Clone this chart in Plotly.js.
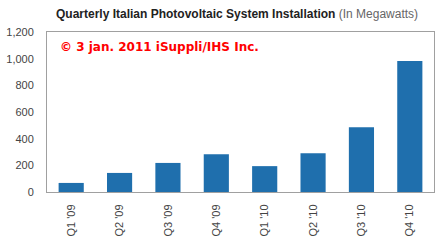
<!DOCTYPE html>
<html><head><meta charset="utf-8">
<script src="https://cdn.plot.ly/plotly-3.0.1.min.js"></script>
<style>html,body{margin:0;padding:0;background:#fff;}</style>
</head><body>
<div id="chart" style="width:438px;height:248px;"></div>
<script>
var quarters = ["Q1 '09","Q2 '09","Q3 '09","Q4 '09","Q1 '10","Q2 '10","Q3 '10","Q4 '10"];
var megawatts = [68, 143, 218, 284, 194, 290, 485, 982];
var yTicks = [0, 200, 400, 600, 800, 1000, 1200];

Plotly.newPlot('chart', [{
  type: 'bar',
  x: quarters,
  y: megawatts,
  marker: {color: '#1f6fad'},
  hoverinfo: 'none'
}], {
  width: 438, height: 248,
  margin: {l: 47, r: 4, t: 32, b: 56, pad: 0},
  paper_bgcolor: '#fff', plot_bgcolor: '#fff',
  bargap: 0.48,
  showlegend: false,
  font: {family: 'Liberation Sans, Arial, sans-serif', size: 11, color: '#444'},
  xaxis: {
    tickangle: -90, showline: true, mirror: true, linecolor: '#a0a0a0', linewidth: 1,
    ticks: '', showgrid: false, zeroline: false, ticklabelstandoff: 7,
    tickfont: {size: 11, color: '#444'}
  },
  yaxis: {
    range: [0, 1200], tickvals: yTicks, ticktext: yTicks.map(function(v){return v.toLocaleString('en-US');}),
    showline: true, mirror: true, linecolor: '#a0a0a0', linewidth: 1,
    ticks: '', showgrid: false, zeroline: false, ticklabelstandoff: 10,
    tickfont: {size: 11, color: '#444'}
  },
  annotations: [
    {xref: 'paper', yref: 'paper', x: 0.018, y: 1.0, yshift: 9, xanchor: 'left', yanchor: 'bottom', showarrow: false,
     text: '<b>Quarterly Italian Photovoltaic System Installation</b><span style="color:#666"> (In Megawatts)</span>',
     font: {family: 'Liberation Sans, Arial, sans-serif', size: 12, color: '#222'}},
    {xref: 'paper', yref: 'paper', x: 0.028, y: 0.965, xanchor: 'left', yanchor: 'top', showarrow: false,
     text: '<b>© 3 jan. 2011 iSuppli/IHS Inc.</b>',
     font: {family: 'DejaVu Sans, sans-serif', size: 12, color: '#ff0000'}}
  ]
}, {staticPlot: true, displayModeBar: false});
</script>
</body></html>
